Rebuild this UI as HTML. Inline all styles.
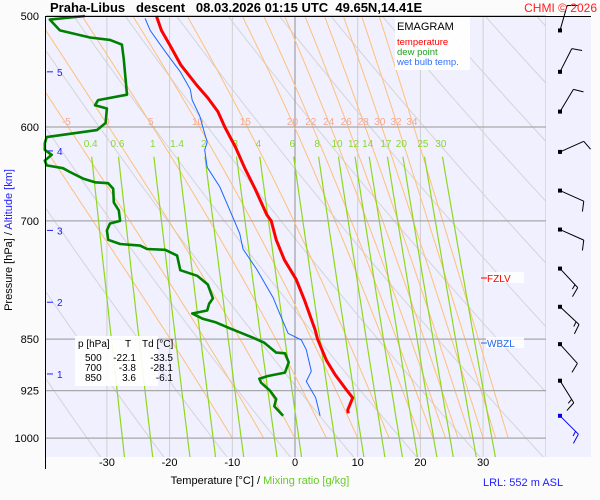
<!DOCTYPE html>
<html><head><meta charset="utf-8"><style>
body{margin:0;background:#fbfbfb;}
svg{display:block;font-family:"Liberation Sans",Arial,sans-serif;}
</style></head><body>
<svg id="c" width="600" height="500" viewBox="0 0 600 500">
<defs><clipPath id="pc"><rect x="46" y="16" width="500" height="441"/></clipPath></defs>
<rect x="46" y="16" width="545" height="441" fill="#f0f0ff"/>
<g id="bg" clip-path="url(#pc)"></g>
<g id="fg"></g>
<g id="ov">
<line x1="45.5" y1="16" x2="45.5" y2="469" stroke="#000"/>
<line x1="45" y1="16.5" x2="591" y2="16.5" stroke="#000"/>
<text x="50" y="12" font-size="13" font-weight="bold" xml:space="preserve">Praha-Libus   descent   08.03.2026 01:15 UTC  49.65N,14.41E</text>
<text x="597" y="12" font-size="12" fill="#ff2020" text-anchor="end">CHMI © 2026</text>
<g>
<rect x="395" y="17" width="75" height="53" fill="#fff" opacity="0.9"/>
<text x="397" y="30" font-size="11">EMAGRAM</text>
<text x="397" y="45" font-size="9.5" fill="#ff0000">temperature</text>
<text x="397" y="55" font-size="9.5" fill="#20a020">dew point</text>
<text x="397" y="65" font-size="9.5" fill="#3070ff">wet bulb temp.</text>
</g>
<g>
<rect x="75" y="336" width="83" height="50" fill="#fff" opacity="0.9"/>
<g font-size="10" fill="#000">
<text x="78" y="347">p [hPa]</text><text x="125" y="347">T</text><text x="142" y="347">Td [°C]</text>
<text x="85" y="361">500</text><text x="136" y="361" text-anchor="end">-22.1</text><text x="173" y="361" text-anchor="end">-33.5</text>
<text x="85" y="371">700</text><text x="136" y="371" text-anchor="end">-3.8</text><text x="173" y="371" text-anchor="end">-28.1</text>
<text x="85" y="381">850</text><text x="136" y="381" text-anchor="end">3.6</text><text x="173" y="381" text-anchor="end">-6.1</text>
</g></g>
<text transform="translate(12,240) rotate(-90)" font-size="11" text-anchor="middle">Pressure [hPa]  /  <tspan fill="#2020ff">Altitude [km]</tspan></text>
<text x="260" y="484" font-size="11" text-anchor="middle">Temperature [°C]  /  <tspan fill="#66cc22">Mixing ratio [g/kg]</tspan></text>
<text x="483" y="486" font-size="11" fill="#2020ff">LRL: 552 m ASL</text>
</g>
</svg>
<script>
const tempP=[500,512,524,542,560,572,585,600,620,642,665,693,700,722,746,771,797,837,850,880,901,925,936,955,960];
const tempT=[-22.1,-21.3,-20,-18.2,-15.7,-13.9,-12.3,-11.2,-9.5,-8.0,-6.3,-4.5,-3.8,-3.0,-1.7,0.2,1.5,3.2,3.6,5.0,6.4,8.3,9.2,8.4,8.5];
const dewP=[500,503,512,518,520,524,537,569,574,579,582,596,603,610,616,623,628,634,639,642,646,653,657,658,664,679,688,700,703,711,722,727,729,733,734,741,759,766,777,795,802,811,815,822,827,835,848,855,869,870,883,898,903,907,913,925,938,949,964];
const dewT=[-33.5,-39.1,-37.5,-32.7,-29.5,-27.6,-27.3,-26.8,-31.4,-31.9,-30.0,-30.2,-31.6,-39.6,-39.9,-39.9,-38.8,-39.9,-39.6,-37.0,-35.9,-33.8,-31.9,-29.8,-29.0,-28.9,-28.1,-27.9,-29.5,-30.0,-29.8,-27.9,-24.7,-23.6,-20.7,-18.8,-18.3,-15.6,-13.9,-13.1,-13.7,-14.0,-16.4,-14.7,-12.6,-10.4,-6.7,-4.9,-3.0,-1.6,-1.0,-1.6,-4.3,-5.7,-5.4,-4.0,-3.0,-3.3,-1.9];
const wbP=[502,512,524,533,548,564,574,589,600,615,623,641,662,696,715,733,758,794,810,842,851,865,896,911,936,964];
const wbT=[-23.9,-23.1,-21.5,-20.3,-18.3,-16.7,-16.4,-15.2,-14.7,-14.0,-14.4,-14.0,-12.0,-9.9,-8.8,-8.3,-6.1,-3.5,-2.7,-1.1,1.0,1.8,2.6,1.8,3.3,4.0];
const pLevels=[500,600,700,850,925,1000];
const tTicks=[-30,-20,-10,0,10,20,30];
const mixRatios=[0.4,0.6,1,1.4,2,3,4,6,8,10,12,14,17,20,25,30];
const moistLabels=[-5,0,5,10,15,20,22,24,26,28,30,32,34];
const moistUnl=[-10];
const altKm=[5,4,3,2,1];
const altP=[548,624,711,800,900];
const windP=[512,548,585,625,666,710,757,806,857,910,964];
const windDir=[16,27,31,66,114,114,137,133,138,148,135];
const windSpd=[10,10,10,10,10,10,15,15,10,15,15];
const NS='http://www.w3.org/2000/svg';
const X=t=>295+t*6.27, Y=p=>16+609*Math.log(p/500);
const bg=document.getElementById('bg'), fg=document.getElementById('fg');
function el(tag,a,par){const e=document.createElementNS(NS,tag);for(const k in a)e.setAttribute(k,a[k]);(par||fg).appendChild(e);return e;}
function txt(x,y,s,a,par){const e=el('text',Object.assign({x:x,y:y},a),par);e.textContent=s;return e;}
function pathOf(ps,ts){return ps.map((p,i)=>(i?'L':'M')+X(ts[i]).toFixed(1)+' '+Y(p).toFixed(1)).join('');}
for(let th=230;th<=420;th+=10){const ps=[],ts=[];for(let p=470;p<=1040;p+=10){ps.push(p);ts.push(th*Math.pow(p/1000,0.286)-273.15);}
 const e=el('path',{d:pathOf(ps,ts),fill:'none',stroke:'#d4d4d8','stroke-width':1},bg);
 
 }
for(let t=-40;t<=40;t+=10){const e=el('line',{x1:X(t),x2:X(t),y1:16,y2:457,stroke:t===0?'#909090':'#d0d0d0','stroke-width':1},bg);
 
 }
function moist(t0){const ps=[1000],ts=[t0];let T=t0+273.15;for(let p=1000;p>500;p-=2){const es=6.112*Math.exp(17.67*(T-273.15)/(T-29.65));const rs=0.622*es/(p-es);const L=2.5e6,Rd=287,cp=1004;const dTdp=(Rd*T+L*rs)/(p*(cp+L*L*rs*0.622/(Rd*T*T)));T-=dTdp*2;ps.push(p-2);ts.push(T-273.15);}return [ps,ts];}
function tAt(ps,ts,pp){for(let i=1;i<ps.length;i++)if(ps[i]<=pp){return ts[i];}return ts[ts.length-1];}
moistUnl.concat(moistLabels).forEach(v=>{const r=moist(v),ps=r[0],ts=r[1];
 const e=el('path',{d:pathOf(ps,ts),fill:'none',stroke:'#ffc078','stroke-width':1},bg);
 
 
 if(moistLabels.includes(v)){const l=txt(X(tAt(ps,ts,600))-2,125,String(v),{'font-size':10,fill:'#f4a890','text-anchor':'middle'});
 
 }});
function tdW(w,p){const e=w*p/(622+w);const g=Math.log(e/6.112);return 243.5*g/(17.67-g);}
mixRatios.forEach(w=>{const ps=[],ts=[];for(let p=630;p<=1040;p+=10){ps.push(p);ts.push(tdW(w,p));}
 const e=el('path',{d:pathOf(ps,ts),fill:'none',stroke:'#8ed81c','stroke-width':1.2},bg);
 
 
 const l=txt(X(tdW(w,620)),147,String(w),{'font-size':10,fill:'#88d830','text-anchor':'middle'});
 
 });
pLevels.forEach(p=>{const e=el('line',{x1:46,x2:546,y1:Y(p),y2:Y(p),stroke:'#a8a8a8','stroke-width':1.2});
 
 
 const l=txt(39,Y(p)+4,String(p),{'font-size':11,'text-anchor':'end'});
 
 });
tTicks.forEach(t=>{const l=txt(X(t),466,String(t),{'font-size':11,'text-anchor':'middle'});
 
 });
altKm.forEach((k,i)=>{const y=Y(altP[i]);el('line',{x1:47,x2:53,y1:y,y2:y,stroke:'#2020ff'});
 const l=txt(57,y+4,String(k),{'font-size':10,fill:'#2020ff'});
 
 });
const s1=el('path',{d:pathOf(wbP,wbT),fill:'none',stroke:'#1a66ff','stroke-width':1});


const s2=el('path',{d:pathOf(dewP,dewT),fill:'none',stroke:'#008000','stroke-width':2.6,'stroke-linejoin':'round'});


const s3=el('path',{d:pathOf(tempP,tempT),fill:'none',stroke:'#ff0000','stroke-width':3,'stroke-linejoin':'round'});


[[278,'FZLV','#ff0000','freezing-level-label'],[343,'WBZL','#2266ee','wet-bulb-zero-label']].forEach(m=>{
 el('rect',{x:486,y:m[0]-6,width:38,height:11,fill:'#fff',opacity:0.85});
 el('line',{x1:481,x2:487,y1:m[0],y2:m[0],stroke:m[2]});
 const l=txt(487,m[0]+4,m[1],{'font-size':10,fill:m[2]});
 
 });
windP.forEach((p,i)=>{const y=Y(p),x=560,a=windDir[i]*Math.PI/180,dx=Math.sin(a),dy=-Math.cos(a);
 const col=i===windP.length-1?'#0000ee':'#000';const L=26;const ex=x+dx*L,ey=y+dy*L;
 const g=el('g',{stroke:col,'stroke-width':1,fill:'none'});
 
 
 el('line',{x1:x,y1:y,x2:ex,y2:ey},g);
 el('rect',{x:x-2,y:y-2,width:4,height:4,fill:col,stroke:'none'},g);
 let s=windSpd[i],k=0;const px=-dy,py=dx;
 while(s>=10){const bx=ex-dx*4*k,by=ey-dy*4*k;el('line',{x1:bx,y1:by,x2:bx+px*10+dx*3,y2:by+py*10+dy*3},g);s-=10;k++;}
 if(s>=5){const bx=ex-dx*4*k,by=ey-dy*4*k;el('line',{x1:bx,y1:by,x2:bx+px*5+dx*1.5,y2:by+py*5+dy*1.5},g);}
});
const svg=document.getElementById('c');svg.appendChild(document.getElementById('ov'));
</script>
</body></html>
